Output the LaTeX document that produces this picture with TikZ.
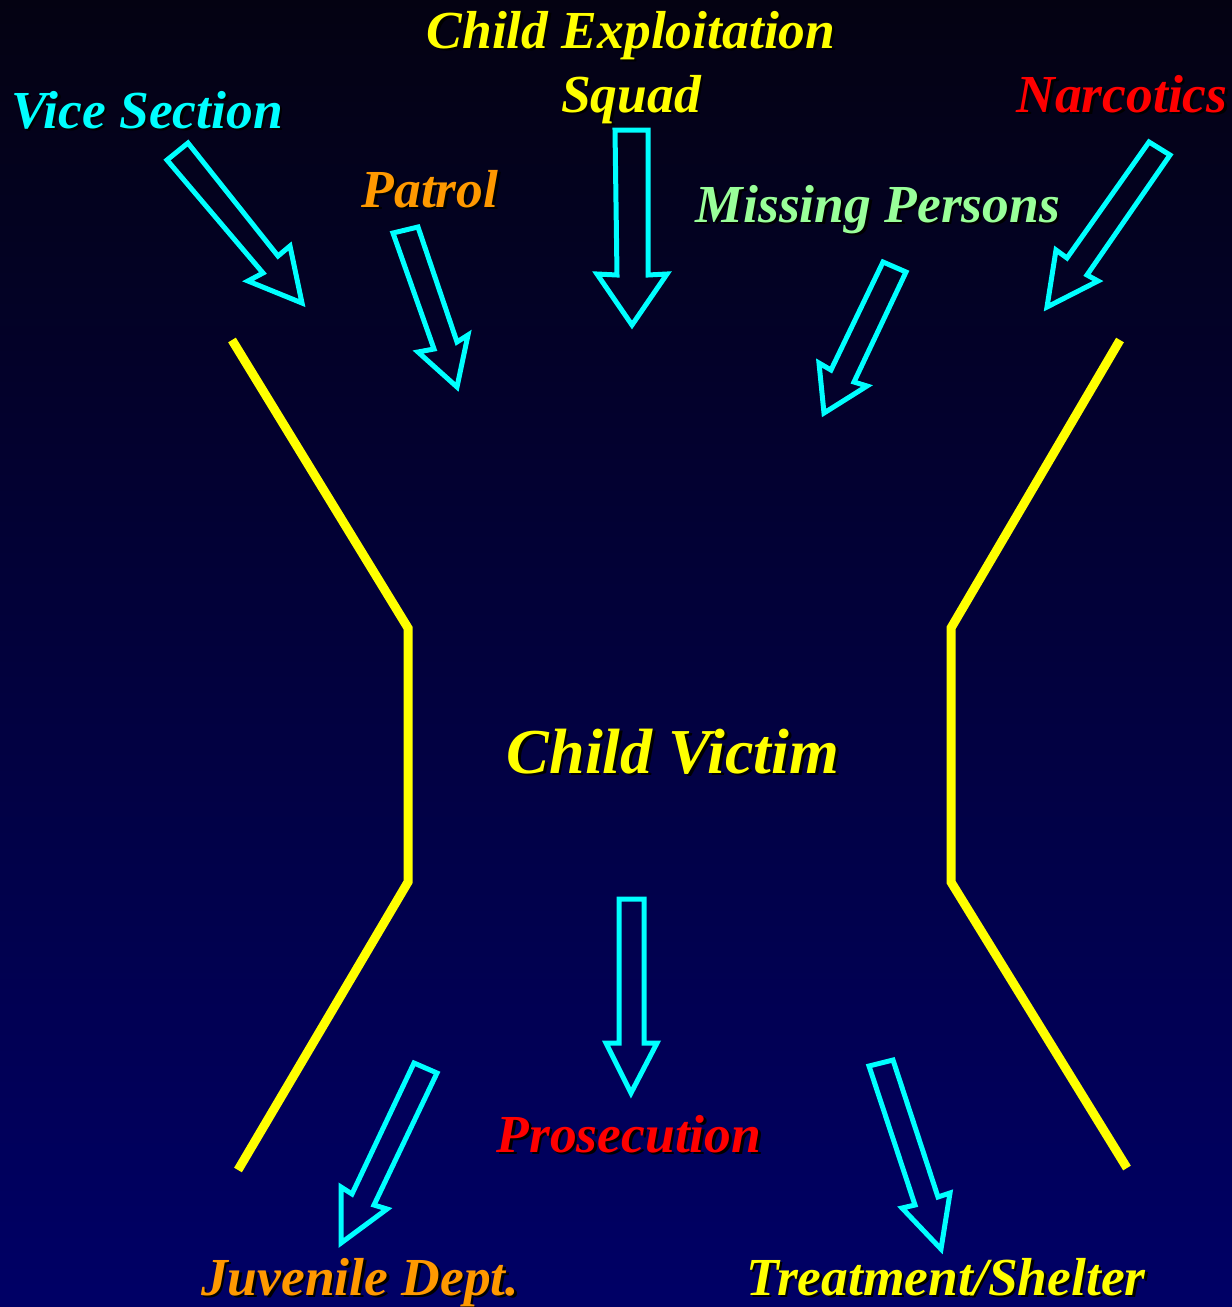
\documentclass[tikz,border=0pt]{standalone}
\usepackage{fontspec}
\setmainfont{Liberation Serif}
\definecolor{bgtop}{RGB}{4,2,18}
\definecolor{bgbot}{RGB}{0,0,102}
\definecolor{cy}{RGB}{0,255,255}
\definecolor{yl}{RGB}{255,255,0}
\definecolor{org}{RGB}{255,153,0}
\definecolor{grn}{RGB}{153,255,153}
\definecolor{rd}{RGB}{255,0,0}
\begin{document}
\begin{tikzpicture}[x=1pt,y=-1pt,
  blockarrow/.style={draw=cy,line width=5pt,line join=miter},
  funnel/.style={draw=yl,line width=9pt,line join=miter},
  lbl/.style={anchor=base,inner sep=0pt,font=\fontsize{53.5}{60}\selectfont\bfseries\itshape},
  biglbl/.style={anchor=base,inner sep=0pt,font=\fontsize{64}{70}\selectfont\bfseries\itshape},
  shadow/.style={text=black}]
\fill[top color=bgtop,bottom color=bgbot] (0,0) rectangle (1232,1307);
\useasboundingbox (0,0) rectangle (1232,1307);

% funnel lines
\coordinate (l1) at (232,340);
\coordinate (l2) at (408,628);
\coordinate (l3) at (408,882);
\coordinate (l4) at (238,1170);
\coordinate (r1) at (1120,340);
\coordinate (r2) at (951,628);
\coordinate (r3) at (951,882);
\coordinate (r4) at (1127,1168);
\draw[funnel] (l1) -- (l2) -- (l3) -- (l4);
\draw[funnel] (r1) -- (r2) -- (r3) -- (r4);

% block arrows (tail, notch, head, tip, head, notch, tail)
\draw[blockarrow] (167,160) -- (263,273) -- (248,281) -- (302,303) -- (290,246) -- (278,256) -- (188,143) -- cycle;
\draw[blockarrow] (393,233) -- (434,349) -- (418,352) -- (457,387) -- (468,335) -- (457,342) -- (418,227) -- cycle;
\draw[blockarrow] (615,130) -- (617,275) -- (597,274) -- (632,325) -- (667,274) -- (648,275) -- (648,130) -- cycle;
\draw[blockarrow] (883,262) -- (831,370) -- (819,363) -- (824,413) -- (867,386) -- (854,382) -- (906,272) -- cycle;
\draw[blockarrow] (1149,142) -- (1067,258) -- (1056,250) -- (1047,307) -- (1098,281) -- (1087,275) -- (1170,155) -- cycle;
\draw[blockarrow] (619,899) -- (619,1043) -- (606,1043) -- (631,1093) -- (657,1043) -- (644,1043) -- (644,899) -- cycle;
\draw[blockarrow] (414,1063) -- (352,1194) -- (341,1187) -- (341,1243) -- (387,1209) -- (374,1205) -- (437,1073) -- cycle;
\draw[blockarrow] (869,1066) -- (915,1205) -- (902,1208) -- (941,1249) -- (950,1193) -- (938,1197) -- (893,1060) -- cycle;

% labels with shadows
\foreach \nm/\x/\y/\c/\t in {
  ceA/631/48/yl/{Child Exploitation},
  ceB/631/112/yl/{Squad},
  vice/147/128/cy/{Vice Section},
  narc/1122/112/rd/{Narcotics},
  patrol/430/207/org/{Patrol},
  miss/878/222/grn/{Missing Persons},
  pros/629/1152/rd/{Prosecution},
  juv/360/1295/org/{Juvenile Dept.},
  treat/946/1295/yl/{Treatment/Shelter}}{
  \node[lbl,shadow] (\nm s) at (\x+2.5,\y+2.5) {\t};
  \node[lbl,text=\c] (\nm) at (\x,\y) {\t};
}
\node[biglbl,shadow] (victims) at (675.5,775.5) {Child Victim};
\node[biglbl,text=yl] (victim) at (673,773) {Child Victim};
\end{tikzpicture}
\end{document}
